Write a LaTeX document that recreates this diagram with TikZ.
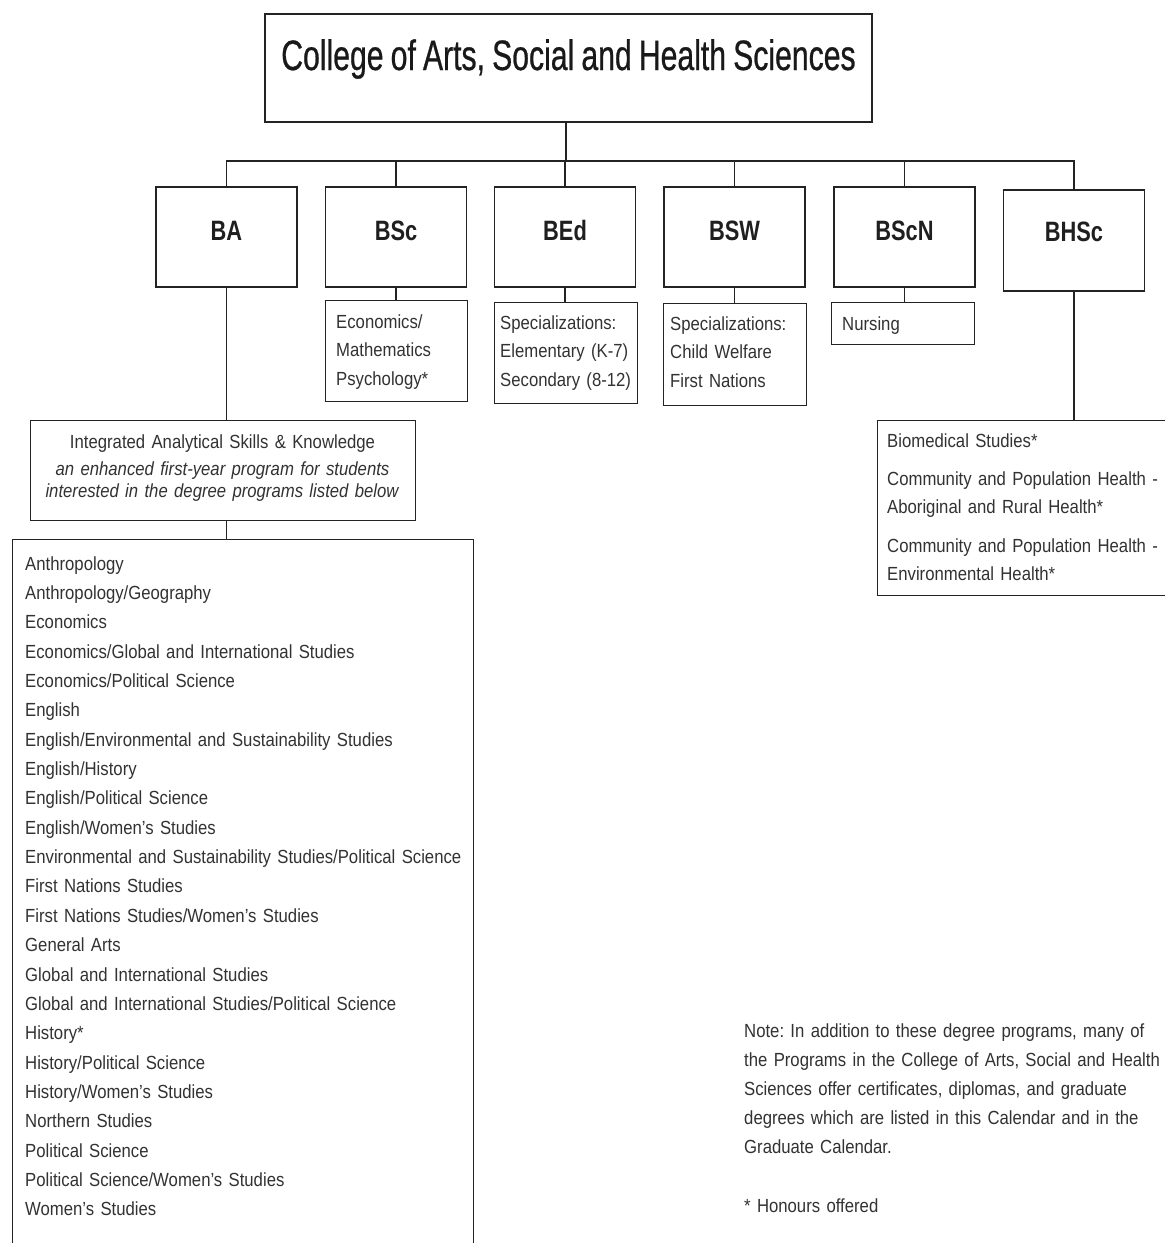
\documentclass[tikz,border=0pt]{standalone}
\usepackage{fontspec}
\setmainfont{Liberation Sans}[FakeStretch=0.88,WordSpace=0.8]
\newfontfamily\labfont{Liberation Sans}[FakeStretch=0.78]
\newfontfamily\ttlfont{Liberation Sans}[FakeStretch=0.71,FakeBold=0.6,WordSpace=0.85]
\definecolor{linec}{RGB}{35,35,35}
\definecolor{textc}{RGB}{50,50,50}
\frenchspacing
\tikzset{
  box/.style={draw=linec, line width=1.3pt, inner sep=0pt, rectangle},
  lvl/.style={box, font=\labfont\bfseries\fontsize{28}{30}\selectfont, text=black!88,
    minimum width=141pt, text height=53pt, text depth=47pt, anchor=base},
  subbox/.style={box, anchor=north west},
  txt/.style={inner sep=0pt, anchor=base west, align=left, text=textc,
    font=\frenchspacing\fontsize{19}{28.7}\selectfont},
  conn/.style={draw=linec, line width=1.3pt}
}
\begin{document}
\begin{tikzpicture}[x=1pt,y=-1pt]
\clip (0,0) rectangle (1165,1243);
\fill[white] (0,0) rectangle (1165,1243);

% title
\node[box, font=\ttlfont\fontsize{42.5}{46}\selectfont, text=black!90, minimum width=607pt,
  text height=56pt, text depth=52pt, anchor=base] (title) at (568.5,70)
  {College of Arts, Social and Health Sciences};

% degree boxes
\node[lvl] (ba)   at (226.5,240) {BA};
\node[lvl] (bsc)  at (396,240)   {BSc};
\node[lvl] (bed)  at (565,240)   {BEd};
\node[lvl] (bsw)  at (734.5,240) {BSW};
\node[lvl] (bscn) at (904.5,240) {BScN};
\node[lvl, text height=51pt, text depth=50pt] (bhsc) at (1074,241) {BHSc};

% sub boxes
\node[subbox, minimum width=142pt, minimum height=101pt] (bscsub) at (325,300) {};
\node[subbox, minimum width=143pt, minimum height=101pt] (bedsub) at (494,302) {};
\node[subbox, minimum width=143pt, minimum height=102pt] (bswsub) at (663,303) {};
\node[subbox, minimum width=143pt, minimum height=42pt] (nursub) at (831,302) {};
\node[subbox, minimum width=385pt, minimum height=100pt] (iask) at (30,420) {};
\node[subbox, minimum width=461pt, minimum height=800pt] (list) at (12,539) {};
\node[subbox, minimum width=330pt, minimum height=175pt] (bhscsub) at (877,420) {};

% texts
\node[txt, text width=128pt] (bscsubt) at (336,328) {Economics/\\Mathematics\\Psychology*};
\node[txt, text width=138pt] (bedsubt) at (500,329) {Specializations:\\Elementary (K-7)\\Secondary (8-12)};
\node[txt, text width=134pt] (bswsubt) at (670,330) {Specializations:\\Child Welfare\\First Nations};
\node[txt, text width=130pt] (nursubt) at (842,330) {Nursing};
\node[txt, anchor=base, align=center, text width=380pt, font=\frenchspacing\fontsize{19}{22}\selectfont]
  (iaskt) at (222.5,448)
  {Integrated Analytical Skills \& Knowledge\\[5pt]
   \textit{an enhanced first-year program for students}\\
   \textit{interested in the degree programs listed below}};
\node[txt, text width=445pt, font=\frenchspacing\fontsize{19}{29.36}\selectfont] (listt) at (25,570)
  {Anthropology\\
   Anthropology/Geography\\
   Economics\\
   Economics/Global and International Studies\\
   Economics/Political Science\\
   English\\
   English/Environmental and Sustainability Studies\\
   English/History\\
   English/Political Science\\
   English/Women’s Studies\\
   Environmental and Sustainability Studies/Political Science\\
   First Nations Studies\\
   First Nations Studies/Women’s Studies\\
   General Arts\\
   Global and International Studies\\
   Global and International Studies/Political Science\\
   History*\\
   History/Political Science\\
   History/Women’s Studies\\
   Northern Studies\\
   Political Science\\
   Political Science/Women’s Studies\\
   Women’s Studies};
\node[txt, text width=275pt, font=\frenchspacing\fontsize{19}{28}\selectfont] (bhscsubt) at (887,447)
  {Biomedical Studies*\\[10.5pt]
   Community and Population Health -\\
   Aboriginal and Rural Health*\\[10.5pt]
   Community and Population Health -\\
   Environmental Health*};
\node[txt, text width=421pt, font=\frenchspacing\fontsize{19}{29.2}\selectfont] (note) at (744,1037)
  {Note: In addition to these degree programs, many of\\
   the Programs in the College of Arts, Social and Health\\
   Sciences offer certificates, diplomas, and graduate\\
   degrees which are listed in this Calendar and in the\\
   Graduate Calendar.\\[29.8pt]
   * Honours offered};

% connectors
\coordinate (bus) at (566,161);
\draw[conn] (title.south -| bus) -- (bus);
\draw[conn] (ba.north) |- (bus) -| (bhsc.north);
\foreach \n in {bsc,bed,bsw,bscn} {\draw[conn] (\n.north) -- (\n.north |- bus);}
\draw[conn] (bsc.south) -- (bsc.south |- bscsub.north);
\draw[conn] (bed.south) -- (bed.south |- bedsub.north);
\draw[conn] (bsw.south) -- (bsw.south |- bswsub.north);
\draw[conn] (bscn.south) -- (bscn.south |- nursub.north);
\draw[conn] (ba.south) -- (ba.south |- iask.north);
\draw[conn] (ba.south |- iask.south) -- (ba.south |- list.north);
\draw[conn] (bhsc.south) -- (bhsc.south |- bhscsub.north);
\end{tikzpicture}
\end{document}
